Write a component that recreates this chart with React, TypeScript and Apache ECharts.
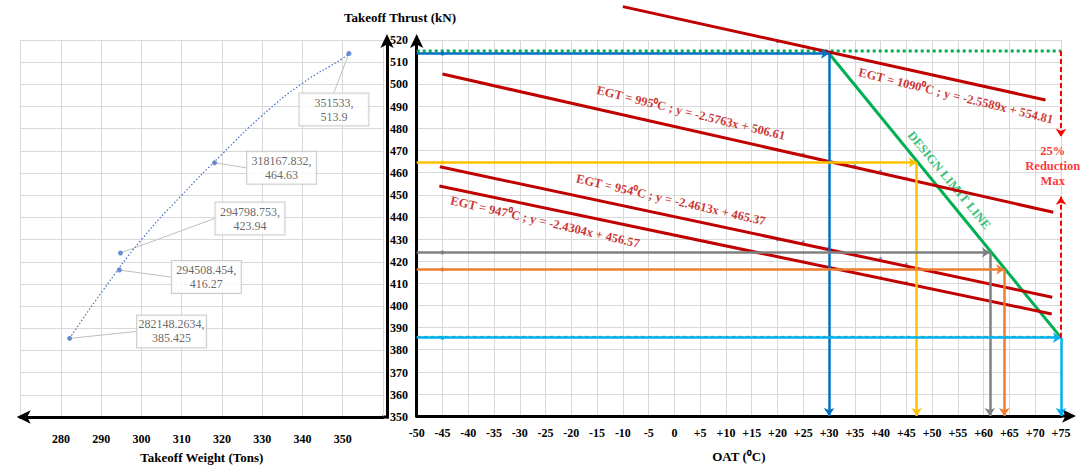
import React, { useEffect, useRef } from 'react';
import * as echarts from 'echarts';

const SERIF = '"Liberation Serif", "Times New Roman", serif';

// ---------- Left chart: takeoff weight vs thrust ----------
const weightTons = [282.1482634, 294.508454, 294.798753, 318.167832, 351.533];
const thrustKN = [385.425, 416.27, 423.94, 464.63, 513.9];
const pointLabels = [
  '282148.2634,\n385.425',
  '294508.454,\n416.27',
  '294798.753,\n423.94',
  '318167.832,\n464.63',
  '351533,\n513.9',
];
const trendWeight = [282.15, 290, 300, 310, 320, 330, 340, 350, 351.53];
const trendThrust = [385.4, 406, 430, 450, 468.5, 486, 500.5, 511.7, 513.9];

// ---------- Right chart: OAT vs thrust ----------
const egtNames = [
  'EGT = 1090⁰C ; y = -2.5589x + 554.81',
  'EGT = 995⁰C ; y = -2.5763x + 506.61',
  'EGT = 954⁰C ; y = -2.4613x + 465.37',
  'EGT = 947⁰C ; y = -2.4304x + 456.57',
];
const egtLineOAT = [[-10, 72], [-45, 73.5], [-45.5, 73.3], [-45.6, 73.2]];
const egtLineThrust = [[535.1, 492.9], [504.6, 442.1], [462.7, 403.7], [454.0, 396.1]];
const egtDotOAT = [
  [20, 25, 35, 40],
  [20, 25, 30, 35, 40, 45],
  [20, 25, 30, 35, 40, 45],
  [25, 32.5, 40, 45],
];
const egtDotThrust = [
  [519.2, 517, 511.7, 509.5],
  [470.3, 468.3, 464.7, 463.2, 460.8, 457.5],
  [429.6, 428.8, 426.3, 423.8, 421.3, 418.7],
  [420, 416.2, 412.6, 410.3],
];

const designOAT = [30, 75];
const designThrust = [513.9, 385.425];

const readThrust = [513.9, 464.63, 423.94, 416.27, 385.425];
const readOAT = [30, 47, 61.2, 64, 75];
const readColors = ['#0070c0', '#ffc000', '#808080', '#ed7d31', '#00b0f0'];

const limitOAT = [-50, 75];
const topLimitThrust = 515;
const bottomLimitThrust = 386;
const reductionOAT = 75;
const reductionTop = [515, 476.3];
const reductionBottom = [385.425, 449.1];
const reductionText = '25%\nReduction\nMax';
const designText = 'DESIGN LIMIT LINE';

const weightMin = 270, weightMax = 360, weightStep = 10;
const oatMin = -50, oatMax = 75, oatStep = 5;
const thrustMin = 350, thrustMax = 520, thrustStep = 10;

function buildOption(): any {
  const bold = { fontFamily: SERIF, fontWeight: 'bold', color: '#000' };
  const split = { show: true, lineStyle: { color: '#d9d9d9', width: 1 } };
  const axisLineBase = { show: true, onZero: false, symbolSize: [10, 14], lineStyle: { color: '#000', width: 3 } };

  const labelOffsets = [[102, -7], [87, 7], [129.5, -34.5], [67, 5], [-15, 56]];
  const egtAnchors = [[54.6, 494.7], [3.2, 487], [-0.7, 447.7], [-25.1, 437.7]];
  const egtAngles = [-13.8, -13.8, -12.8, -13];

  const series: any[] = [];

  // left trend line
  series.push({
    type: 'line', xAxisIndex: 0, yAxisIndex: 0, smooth: true, symbol: 'none', silent: true,
    data: trendWeight.map((w, i) => [w, trendThrust[i]]),
    lineStyle: { color: '#4472c4', width: 1.2, type: [1.5, 2] },
  });
  // left points with callouts
  series.push({
    type: 'scatter', xAxisIndex: 0, yAxisIndex: 0, symbolSize: 5, silent: true,
    itemStyle: { color: '#4472c4' },
    data: weightTons.map((w, i) => [w, thrustKN[i]]),
    label: {
      show: true, position: 'inside',
      formatter: (p: any) => pointLabels[p.dataIndex],
      fontFamily: SERIF, fontSize: 12, color: '#404040', lineHeight: 14,
      backgroundColor: '#fff', borderColor: '#bfbfbf', borderWidth: 1,
      padding: [2, 3], width: 63, align: 'center', verticalAlign: 'middle',
    },
    labelLayout: (p: any) => ({ dx: labelOffsets[p.dataIndex][0], dy: labelOffsets[p.dataIndex][1] }),
    labelLine: { show: true, lineStyle: { color: '#bfbfbf', width: 1 } },
  });

  // reading lines with arrows
  readThrust.forEach((t, i) => {
    series.push({
      type: 'line', xAxisIndex: 1, yAxisIndex: 1, silent: true,
      data: [[-45, t]], symbol: 'circle', symbolSize: 4,
      itemStyle: { color: readColors[i] }, lineStyle: { width: 0 },
      markLine: {
        silent: true, symbol: ['none', 'arrow'], symbolSize: 8, label: { show: false },
        lineStyle: { color: readColors[i], width: 2.5, type: 'solid' },
        emphasis: { disabled: true },
        data: [
          [{ coord: [oatMin, t] }, { coord: [readOAT[i], t] }],
          [{ coord: [readOAT[i], t] }, { coord: [readOAT[i], thrustMin] }],
        ],
      },
    });
  });

  // green dotted top limit & dashed bottom limit
  series.push({
    type: 'line', xAxisIndex: 1, yAxisIndex: 1, symbol: 'none', silent: true,
    data: limitOAT.map((x) => [x, topLimitThrust]),
    lineStyle: { color: '#00b050', width: 3, type: [3, 3] },
  });
  series.push({
    type: 'line', xAxisIndex: 1, yAxisIndex: 1, symbol: 'none', silent: true,
    data: limitOAT.map((x) => [x, bottomLimitThrust]),
    lineStyle: { color: '#00b050', width: 1, type: [4, 3] },
  });

  // red dashed 25% reduction arrows
  series.push({
    type: 'line', xAxisIndex: 1, yAxisIndex: 1, silent: true,
    data: [[reductionOAT, reductionTop[0]]], symbolSize: 0, lineStyle: { width: 0 },
    markLine: {
      silent: true, symbol: ['none', 'arrow'], symbolSize: 8, label: { show: false },
      lineStyle: { color: '#ff0000', width: 2, type: [5, 3] },
      emphasis: { disabled: true },
      data: [
        [{ coord: [reductionOAT, reductionTop[0]] }, { coord: [reductionOAT, reductionTop[1]] }],
        [{ coord: [reductionOAT, reductionBottom[0]] }, { coord: [reductionOAT, reductionBottom[1]] }],
      ],
    },
  });

  // design limit line
  series.push({
    type: 'line', xAxisIndex: 1, yAxisIndex: 1, symbol: 'none', silent: true,
    data: designOAT.map((x, i) => [x, designThrust[i]]),
    lineStyle: { color: '#00b050', width: 3 },
  });

  // EGT lines
  egtNames.forEach((n, i) => {
    series.push({
      name: n, type: 'line', xAxisIndex: 1, yAxisIndex: 1, symbol: 'none', clip: false, silent: true,
      data: egtLineOAT[i].map((x, j) => [x, egtLineThrust[i][j]]),
      lineStyle: { color: '#c00000', width: 3 },
    });
    series.push({
      type: 'scatter', xAxisIndex: 1, yAxisIndex: 1, symbolSize: 3, silent: true,
      itemStyle: { color: '#6a7fb0' },
      data: egtDotOAT[i].map((x, j) => [x, egtDotThrust[i][j]]),
    });
  });

  // text annotations on the right chart
  const ann: any[] = egtNames.map((n, i) => ({
    value: egtAnchors[i],
    label: { formatter: n, rotate: egtAngles[i], color: '#c00000', fontSize: 12.5 },
  }));
  ann.push({
    value: [53.3, 456.6],
    label: { formatter: designText, rotate: -50.5, color: '#00b050', fontSize: 12.5 },
  });
  ann.push({
    value: [73.4, 463],
    label: { formatter: reductionText, rotate: 0, color: '#ff0000', fontSize: 12.5, lineHeight: 15, align: 'center' },
  });
  series.push({
    type: 'scatter', xAxisIndex: 1, yAxisIndex: 1, symbolSize: 0, silent: true, clip: false,
    itemStyle: { color: 'transparent' },
    label: { show: true, position: 'inside', fontFamily: SERIF, fontWeight: 'bold' },
    data: ann,
  });

  return {
    animation: false,
    backgroundColor: '#fff',
    grid: [
      { left: 20.7, top: 40, width: 362.3, height: 377, outerBoundsMode: 'none', containLabel: false },
      { left: 416.7, top: 40, width: 644.3, height: 376, outerBoundsMode: 'none', containLabel: false },
    ],
    xAxis: [
      {
        gridIndex: 0, type: 'value', min: weightMin, max: weightMax, interval: weightStep,
        axisLine: { ...axisLineBase, symbol: ['arrow', 'none'], symbolOffset: [-4, 0] },
        axisTick: { show: false },
        axisLabel: { ...bold, fontSize: 12, margin: 16, formatter: (v: number) => (v < 280 || v > 350 ? '' : String(v)) },
        splitLine: split,
        name: 'Takeoff Weight (Tons)', nameLocation: 'middle', nameGap: 34,
        nameTextStyle: { ...bold, fontSize: 13 },
      },
      {
        gridIndex: 1, type: 'value', min: oatMin, max: oatMax, interval: oatStep,
        axisLine: { ...axisLineBase, symbol: ['none', 'arrow'], symbolOffset: [0, 15] },
        axisTick: { show: false },
        axisLabel: { ...bold, fontSize: 12, margin: 11, formatter: (v: number) => (v > 0 ? '+' + v : String(v)) },
        splitLine: split,
        name: 'OAT (⁰C)', nameLocation: 'middle', nameGap: 34,
        nameTextStyle: { ...bold, fontSize: 13 },
      },
    ],
    yAxis: [
      {
        gridIndex: 0, type: 'value', position: 'right', offset: 4,
        min: thrustMin, max: thrustMax, interval: thrustStep,
        axisLine: { ...axisLineBase, symbol: ['none', 'arrow'], symbolOffset: [0, 6] },
        axisTick: { show: false },
        axisLabel: { ...bold, fontSize: 12, margin: 3 },
        splitLine: split,
      },
      {
        gridIndex: 1, type: 'value', min: thrustMin, max: thrustMax, interval: thrustStep,
        axisLine: { ...axisLineBase, symbol: ['none', 'arrow'], symbolOffset: [0, 6] },
        axisTick: { show: false },
        axisLabel: { show: false },
        splitLine: split,
      },
    ],
    graphic: [
      {
        type: 'text', x: 400, y: 17,
        style: { text: 'Takeoff Thrust (kN)', font: `bold 13px ${SERIF}`, fill: '#000', textAlign: 'center', textVerticalAlign: 'middle' },
      },
      { type: 'line', shape: { x1: 382, y1: 417, x2: 389, y2: 417 }, style: { stroke: '#000', lineWidth: 3 } },
      { type: 'line', shape: { x1: 1060, y1: 416, x2: 1072, y2: 416 }, style: { stroke: '#000', lineWidth: 3 } },
    ],
    series,
  };
}

export default function App() {
  const ref = useRef<HTMLDivElement>(null);
  useEffect(() => {
    if (!ref.current) return;
    const chart = echarts.init(ref.current, null, { renderer: 'svg' });
    chart.setOption(buildOption());
    return () => chart.dispose();
  }, []);
  return (
    <div
      ref={ref}
      style={{ position: 'fixed', left: 0, top: 0, width: 1083, height: 465, background: '#fff' }}
    />
  );
}
